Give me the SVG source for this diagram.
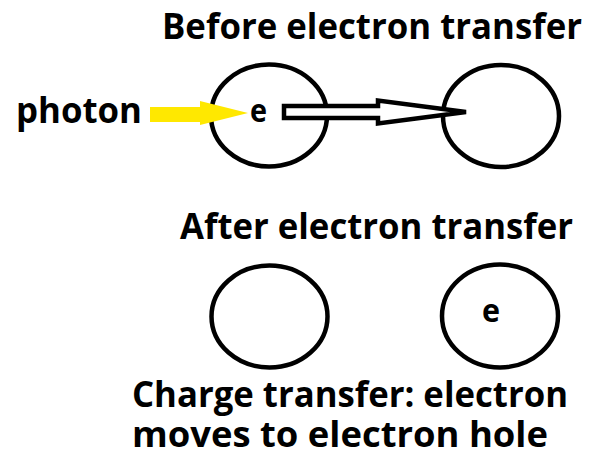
<svg xmlns="http://www.w3.org/2000/svg" width="589" height="459" viewBox="0 0 589 459">
<style>
.t{font-family:"Open Sans","Liberation Sans",sans-serif;font-weight:bold;fill:#000}
.c{fill:none;stroke:#000;stroke-width:4.5}
</style>
<rect width="589" height="459" fill="#fff"/>
<text class="t" x="162" y="39" font-size="35" textLength="420" lengthAdjust="spacingAndGlyphs">Before electron transfer</text>
<g id="atom1"><ellipse class="c" cx="269" cy="115.5" rx="58" ry="51"/></g>
<g id="atom2"><ellipse class="c" cx="501" cy="116" rx="58" ry="51"/></g>
<g id="photon"><text class="t" x="16" y="123" font-size="35" textLength="126" lengthAdjust="spacingAndGlyphs">photon</text></g>
<g id="connectors">
<polygon points="150,107 200,107 200,101 248,113 200,125 200,122 150,122" fill="#FFE800"/>
<polygon points="284,106 378,106 378,100.5 466,112 378,123.5 378,118 284,118" fill="#fff" stroke="#000" stroke-width="4.5" stroke-linejoin="miter"/>
</g>
<g id="e1"><text class="t" x="250" y="122" font-size="32" textLength="17" lengthAdjust="spacingAndGlyphs">e</text></g>
<text class="t" x="180" y="239" font-size="35" textLength="393" lengthAdjust="spacingAndGlyphs">After electron transfer</text>
<g id="atom3"><ellipse class="c" cx="269.5" cy="316.5" rx="58" ry="51"/></g>
<g id="atom4"><ellipse class="c" cx="500" cy="316" rx="58" ry="51.5"/>
<text class="t" x="482" y="322" font-size="32" textLength="18" lengthAdjust="spacingAndGlyphs">e</text></g>
<text class="t" x="132" y="407" font-size="35" textLength="436" lengthAdjust="spacingAndGlyphs">Charge transfer: electron</text>
<text class="t" x="132" y="447" font-size="35" textLength="416" lengthAdjust="spacingAndGlyphs">moves to electron hole</text>
</svg>
